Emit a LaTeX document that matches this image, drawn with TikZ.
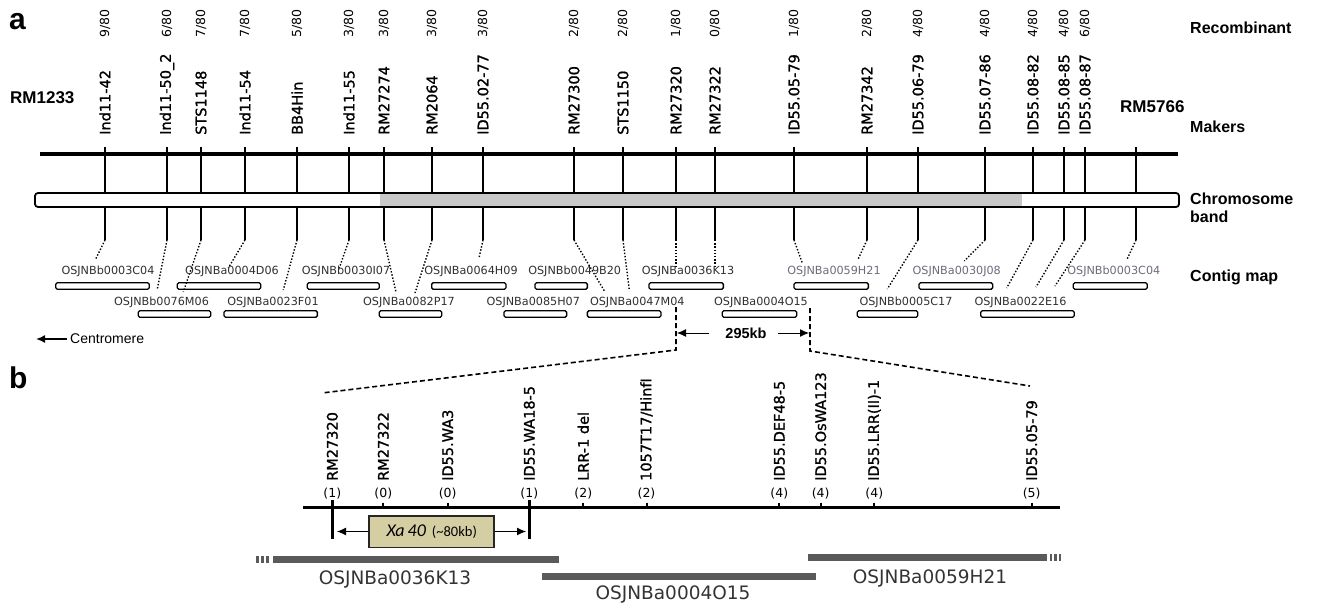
\documentclass[tikz,border=0pt]{standalone}
\usepackage{fontspec}
\setmainfont{DejaVu Sans}
\newfontfamily\arialfont{Liberation Sans}
\newfontfamily\calfont{Carlito}
\newfontfamily\mkrfont{DejaVu Sans}[FakeBold=1.2]
\usepackage{tikz}
\usetikzlibrary{arrows.meta,positioning,calc}
\definecolor{clrBand}{HTML}{C8C8C8}
\definecolor{clrCtg}{HTML}{303030}
\definecolor{clrCtgLt}{HTML}{6C6C7C}
\definecolor{clrXa}{HTML}{D6CEA3}
\definecolor{clrBac}{HTML}{5A5A5A}
\definecolor{clrBacTxt}{HTML}{333333}
\tikzset{
  plab/.style={anchor=base west, inner sep=0pt,
    font=\arialfont\fontsize{30}{32}\selectfont\bfseries},
  hdr/.style={anchor=base west, inner sep=0pt,
    font=\arialfont\fontsize{16}{18}\selectfont\bfseries},
  rmlab/.style={hdr, font=\arialfont\fontsize{17}{19}\selectfont\bfseries},
  mkr/.style={rotate=90, anchor=west, inner sep=0pt,
    font=\mkrfont\fontsize{14.5}{16}\selectfont},
  rec/.style={rotate=90, anchor=east, inner sep=0pt,
    font=\fontsize{12.5}{14}\selectfont},
  num/.style={inner sep=0pt, font=\fontsize{12.5}{14}\selectfont},
  ctg/.style={rectangle, rounded corners=1.5pt, draw, line width=1.3pt,
    minimum height=6.5pt, inner sep=0pt},
  ctglab/.style={inner sep=0pt, text=clrCtg, font=\fontsize{11.2}{13}\selectfont},
  bandbox/.style={rectangle, rounded corners=3pt, draw, line width=1.8pt,
    minimum width=1144pt, minimum height=14pt, inner sep=0pt},
  xabox/.style={rectangle, draw=black!85, fill=clrXa, line width=1.5pt,
    minimum width=125pt, minimum height=31.5pt, inner sep=0pt},
  bac/.style={rectangle, fill=clrBac, minimum height=7pt, inner sep=0pt},
  bactick/.style={bac, minimum width=2.2pt},
  baclab/.style={inner sep=0pt, text=clrBacTxt, font=\fontsize{18.5}{20}\selectfont},
  txtlab/.style={anchor=west, inner sep=0pt, font=\arialfont\fontsize{14}{16}\selectfont},
  kblab/.style={inner sep=0pt, font=\arialfont\fontsize{14.5}{16}\selectfont\bfseries},
  mline/.style={line width=1.6pt},
  dotln/.style={line width=1.4pt, dash pattern=on 1.4pt off 1.8pt},
  zoomln/.style={line width=1.6pt, dash pattern=on 5pt off 3pt},
  arr/.style={-{Latex[length=9pt, width=8pt]}, line width=1pt},
}

\begin{document}
\begin{tikzpicture}[x=1pt, y=-1pt]
\useasboundingbox (0,0) rectangle (1320,604);

\def\yrec{9}      % Oberkante Rekombinanten
\def\ylab{135}    % Fuss der Markernamen
\def\ytop{147}    % Start Markerstrich
\def\ymap{154}    % dicke Kartenlinie
\def\ybot{240}    % Ende Markerstrich
\def\ylabA{271}   % Contig-Namen, Reihe 1
\def\yctgA{286}   % Contigs, Reihe 1
\def\ylabB{302}   % Contig-Namen, Reihe 2
\def\yctgB{314}   % Contigs, Reihe 2
\def\yax{507}     % Achse Teil b

\node[plab] (pa) at (9,30) {a};
\node[plab] (pb) at (9,388) {b};

% Marker, Rekombinanten, Anschluss an die Contigs
\foreach \xm/\mname/\rc/\ex/\ey [count=\i] in {
  105/Ind11-42/9/95.7/259, 167/Ind11-50\_2/6/157.3/289,
  201/STS1148/7/183.3/292, 245/Ind11-54/7/228.3/268,
  297/BB4Hin/5/283.3/290, 349/Ind11-55/3/339.3/268,
  384/RM27274/3/396/292, 432/RM2064/3/415/293,
  483/ID55.02-77/3/479/258, 574/RM27300/2/605/292,
  623/STS1150/2/629.3/290, 676/RM27320/1/676/266,
  715/RM27322/0/715/266, 794/ID55.05-79/1/802.3/263,
  867/RM27342/2/857.7/260, 918/ID55.06-79/4/887.3/289,
  985/ID55.07-86/4/964.3/261, 1033/ID55.08-82/4/1006.7/288,
  1064/ID55.08-85/4/1036/287, 1085/ID55.08-87/6/1055/286}{
  \node[mkr] (m\i) at (\xm,\ylab) {\mname};
  \node[rec] (r\i) at (\xm,\yrec) {\rc/80};
  \coordinate (mt\i) at (\xm,\ytop);
  \coordinate (mb\i) at (\xm,\ybot);
  \coordinate (me\i) at (\ex,\ey);
  \draw[mline] (mt\i) -- (mb\i);
  \draw[dotln] (mb\i) -- (me\i);
}

\node[rmlab] (rmL) at (10,104) {RM1233};
\node[rmlab] (rmR) at (1120,113) {RM5766};
\coordinate (mt21) at (1136,\ytop);
\coordinate (mb21) at (1136,\ybot);
\coordinate (me21) at (1126.7,260);
\draw[mline] (mt21) -- (mb21);
\draw[dotln] (mb21) -- (me21);

\coordinate (mapL) at (40,\ymap);
\coordinate (mapR) at (1178,\ymap);
\draw[line width=4pt] (mapL) -- (mapR);

\node[bandbox, fill=white] (band) at (607,200) {};
\fill[clrBand] (380,194) rectangle (1022,206);

% Contigs
\foreach \cx/\cw/\lx/\lab/\clr [count=\i] in {
  102.5/93.6/108/OSJNBb0003C04/clrCtg, 219/83.4/232/OSJNBa0004D06/clrCtg,
  343.3/72/346/OSJNBb0030I07/clrCtg, 468.8/74.3/471/OSJNBa0064H09/clrCtg,
  561.2/52.3/574.7/OSJNBb0049B20/clrCtg, 686.2/74.3/688/OSJNBa0036K13/clrCtg,
  831.2/74.3/834/OSJNBa0059H21/clrCtgLt, 955.8/73.7/956.7/OSJNBa0030J08/clrCtgLt,
  1110.3/74/1113.8/OSJNBb0003C04/clrCtgLt}{
  \node[ctg, minimum width=\cw pt] (ca\i) at (\cx,\yctgA) {};
  \node[ctglab, text=\clr] (la\i) at (\lx,\ylabA) {\lab};
}
\foreach \cx/\cw/\lx/\lab [count=\i] in {
  174.5/72.4/161.5/OSJNBb0076M06, 270.7/93.3/273/OSJNBa0023F01,
  410.5/62.4/409/OSJNBa0082P17, 535.3/62.7/533.3/OSJNBa0085H07,
  624.2/73.7/637.3/OSJNBa0047M04, 759.5/74.4/761/OSJNBa0004O15,
  887.5/60.4/906/OSJNBb0005C17, 1027.5/93.6/1020.5/OSJNBa0022E16}{
  \node[ctg, minimum width=\cw pt] (cb\i) at (\cx,\yctgB) {};
  \node[ctglab] (lb\i) at (\lx,\ylabB) {\lab};
}

\node[hdr] (hRec) at (1190,34) {Recombinant};
\node[hdr] (hMak) at (1190,133) {Makers};
\node[hdr] (hChr) at (1190,205) {Chromosome};
\node[hdr] (hBnd) at (1190,223) {band};
\node[hdr] (hCtg) at (1190,281) {Contig map};

\node[txtlab] (cen) at (70,339) {Centromere};
\coordinate (cenTip) at (36,339);
\draw[arr, line width=1.6pt] ([xshift=-3pt]cen.west) -- (cenTip);

% 295 kb Fenster und Zoom nach b
\node[kblab] (kb) at (746,333) {295kb};
\coordinate (kbL) at (677,333);
\coordinate (kbR) at (809,333);
\draw[arr] ([xshift=-16pt]kb.west) -- (kbL);
\draw[arr] ([xshift=11pt]kb.east) -- (kbR);

\coordinate (zA0) at (676,307);
\coordinate (zA1) at (676,350);
\coordinate (zA2) at (322,393);
\coordinate (zB0) at (810,308);
\coordinate (zB1) at (810,351);
\coordinate (zB2) at (1030,386);
\draw[zoomln] (zA0) -- (zA1) -- (zA2);
\draw[zoomln] (zB0) -- (zB1) -- (zB2);

% Teil b
\coordinate (axL) at (303,\yax);
\coordinate (axR) at (1060,\yax);
\draw[line width=3pt] (axL) -- (axR);

\foreach \xm/\mname/\n [count=\i] in {
  332.3/RM27320/1, 383.3/RM27322/0, 447.7/ID55.WA3/0, 529.3/ID55.WA18-5/1,
  583.3/LRR-1 del/2, 646.5/{1057T17/HinfI}/2, 779.3/ID55.DEF48-5/4,
  820.7/ID55.OsWA123/4, 874.3/ID55.LRR(II)-1/4, 1031.7/ID55.05-79/5}{
  \node[mkr] (q\i) at (\xm,481) {\mname};
  \node[num] (n\i) at (\xm,494) {(\n)};
  \coordinate (qt\i) at (\xm,502.5);
  \coordinate (qa\i) at (\xm,\yax);
  \draw[line width=2pt] (qt\i) -- (qa\i);
}

\coordinate (flL0) at (332.3,500);
\coordinate (flL1) at (332.3,539);
\coordinate (flR0) at (529.3,500);
\coordinate (flR1) at (529.3,539);
\draw[line width=2.6pt] (flL0) -- (flL1);
\draw[line width=2.6pt] (flR0) -- (flR1);

\node[xabox] (xa) at (431.7,531.5)
  {{\calfont\fontsize{18}{20}\selectfont\itshape Xa\,40}\hspace{6pt}{\calfont\fontsize{14.5}{16}\selectfont(\textasciitilde80kb)}};
\coordinate (xaL) at (337,531.5);
\coordinate (xaR) at (526,531.5);
\draw[arr] (xa.west) -- (xaL);
\draw[arr] (xa.east) -- (xaR);

% BAC-Klone
\node[bac, minimum width=286.6pt] (bac1) at (416,559) {};
\node[bac, minimum width=274.3pt] (bac2) at (678.9,576) {};
\node[bac, minimum width=239pt] (bac3) at (927.8,557.5) {};
\foreach \xt [count=\i] in {257.5,262.5,267.5}
  \node[bactick] (tl\i) at (\xt,559) {};
\foreach \xt [count=\i] in {1051,1055.5,1060}
  \node[bactick] (tr\i) at (\xt,557.5) {};
\node[baclab] (bl1) at (395,579) {OSJNBa0036K13};
\node[baclab] (bl2) at (673,594) {OSJNBa0004O15};
\node[baclab] (bl3) at (930,578) {OSJNBa0059H21};

\end{tikzpicture}
\end{document}
